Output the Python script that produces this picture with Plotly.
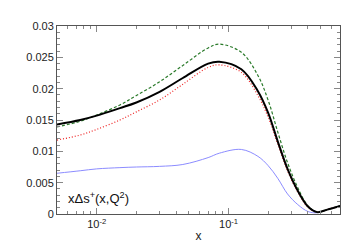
import plotly.graph_objects as go

x = [0.005, 0.0075, 0.01, 0.015, 0.02, 0.03, 0.045, 0.07, 0.085, 0.125,
     0.167, 0.2, 0.236, 0.28, 0.335, 0.4, 0.47, 0.56, 0.7]
black = [0.0143, 0.0150, 0.0157, 0.0169, 0.0178, 0.0195, 0.0217, 0.0240, 0.0243, 0.0231,
         0.0196, 0.0161, 0.0116, 0.0072, 0.0037, 0.0012, 0.0003, 0.0007, 0.0013]
green = [0.0139, 0.0148, 0.0158, 0.0174, 0.0189, 0.0211, 0.0237, 0.0265, 0.0271, 0.0258,
         0.0221, 0.0181, 0.0131, 0.0082, 0.0042, 0.0013, 0.0003, 0.0007, 0.0013]
red = [0.0118, 0.0126, 0.0135, 0.0150, 0.0163, 0.0182, 0.0207, 0.0234, 0.0238, 0.0226,
       0.0189, 0.0154, 0.0112, 0.0069, 0.0035, 0.0011, 0.0003, 0.0007, 0.0013]
blue = [0.0065, 0.0069, 0.0072, 0.0074, 0.0075, 0.0076, 0.0079, 0.0090, 0.0097, 0.0103,
        0.0092, 0.0077, 0.0057, 0.0032, 0.0015, 0.0004, 0.0002, 0.0007, 0.0013]

y_ticks = [0, 0.005, 0.01, 0.015, 0.02, 0.025, 0.03]
y_ticklabels = ["0", "0.005", "0.01", "0.015", "0.02", "0.025", "0.03"]
x_ticks = [0.01, 0.1]
x_ticklabels = ["10<sup>-2</sup>", "10<sup>-1</sup>"]
x_minor = [0.006, 0.007, 0.008, 0.009, 0.02, 0.03, 0.04, 0.05, 0.06, 0.07, 0.08, 0.09,
           0.2, 0.3, 0.4, 0.5, 0.6, 0.7]

fig = go.Figure()
fig.add_trace(go.Scatter(x=x, y=blue, mode="lines", line=dict(color="#8c8cff", width=1, shape="spline")))
fig.add_trace(go.Scatter(x=x, y=red, mode="lines", line=dict(color="#ee2222", width=1.2, dash="1px,2px", shape="spline")))
fig.add_trace(go.Scatter(x=x, y=green, mode="lines", line=dict(color="#2a7a2a", width=1.2, dash="3px,2px", shape="spline")))
fig.add_trace(go.Scatter(x=x, y=black, mode="lines", line=dict(color="black", width=2, shape="spline")))

fig.update_layout(
    width=350, height=245,
    margin=dict(l=49, r=18, t=12, b=32),
    paper_bgcolor="white", plot_bgcolor="white",
    showlegend=False,
    font=dict(family="Liberation Sans, Arial, sans-serif", size=11, color="#222"),
    annotations=[dict(text="xΔs<sup>+</sup>(x,Q<sup>2</sup>)", xref="paper", yref="paper",
                      x=0.032, y=0.085, xanchor="left", yanchor="middle", showarrow=False,
                      font=dict(size=13, color="#111"))],
)
fig.update_xaxes(
    type="log", range=[-2.30103, -0.1549],
    tickmode="array", tickvals=x_ticks, ticktext=x_ticklabels,
    ticks="inside", ticklen=6, tickcolor="#888", tickwidth=1,
    minor=dict(tickmode="array", tickvals=x_minor, ticks="inside", ticklen=3, tickcolor="#888"),
    showline=True, linecolor="#555", linewidth=1, mirror="ticks",
    showgrid=False, zeroline=False,
    title=dict(text="x", standoff=2, font=dict(size=12)),
)
fig.update_yaxes(
    range=[0, 0.03],
    tickmode="array", tickvals=y_ticks, ticktext=y_ticklabels,
    ticks="inside", ticklen=6, tickcolor="#888", tickwidth=1,
    minor=dict(dtick=0.001, ticks="inside", ticklen=3, tickcolor="#888"),
    showline=True, linecolor="#555", linewidth=1, mirror="ticks",
    showgrid=False, zeroline=False,
)
fig.write_html("out.html")
